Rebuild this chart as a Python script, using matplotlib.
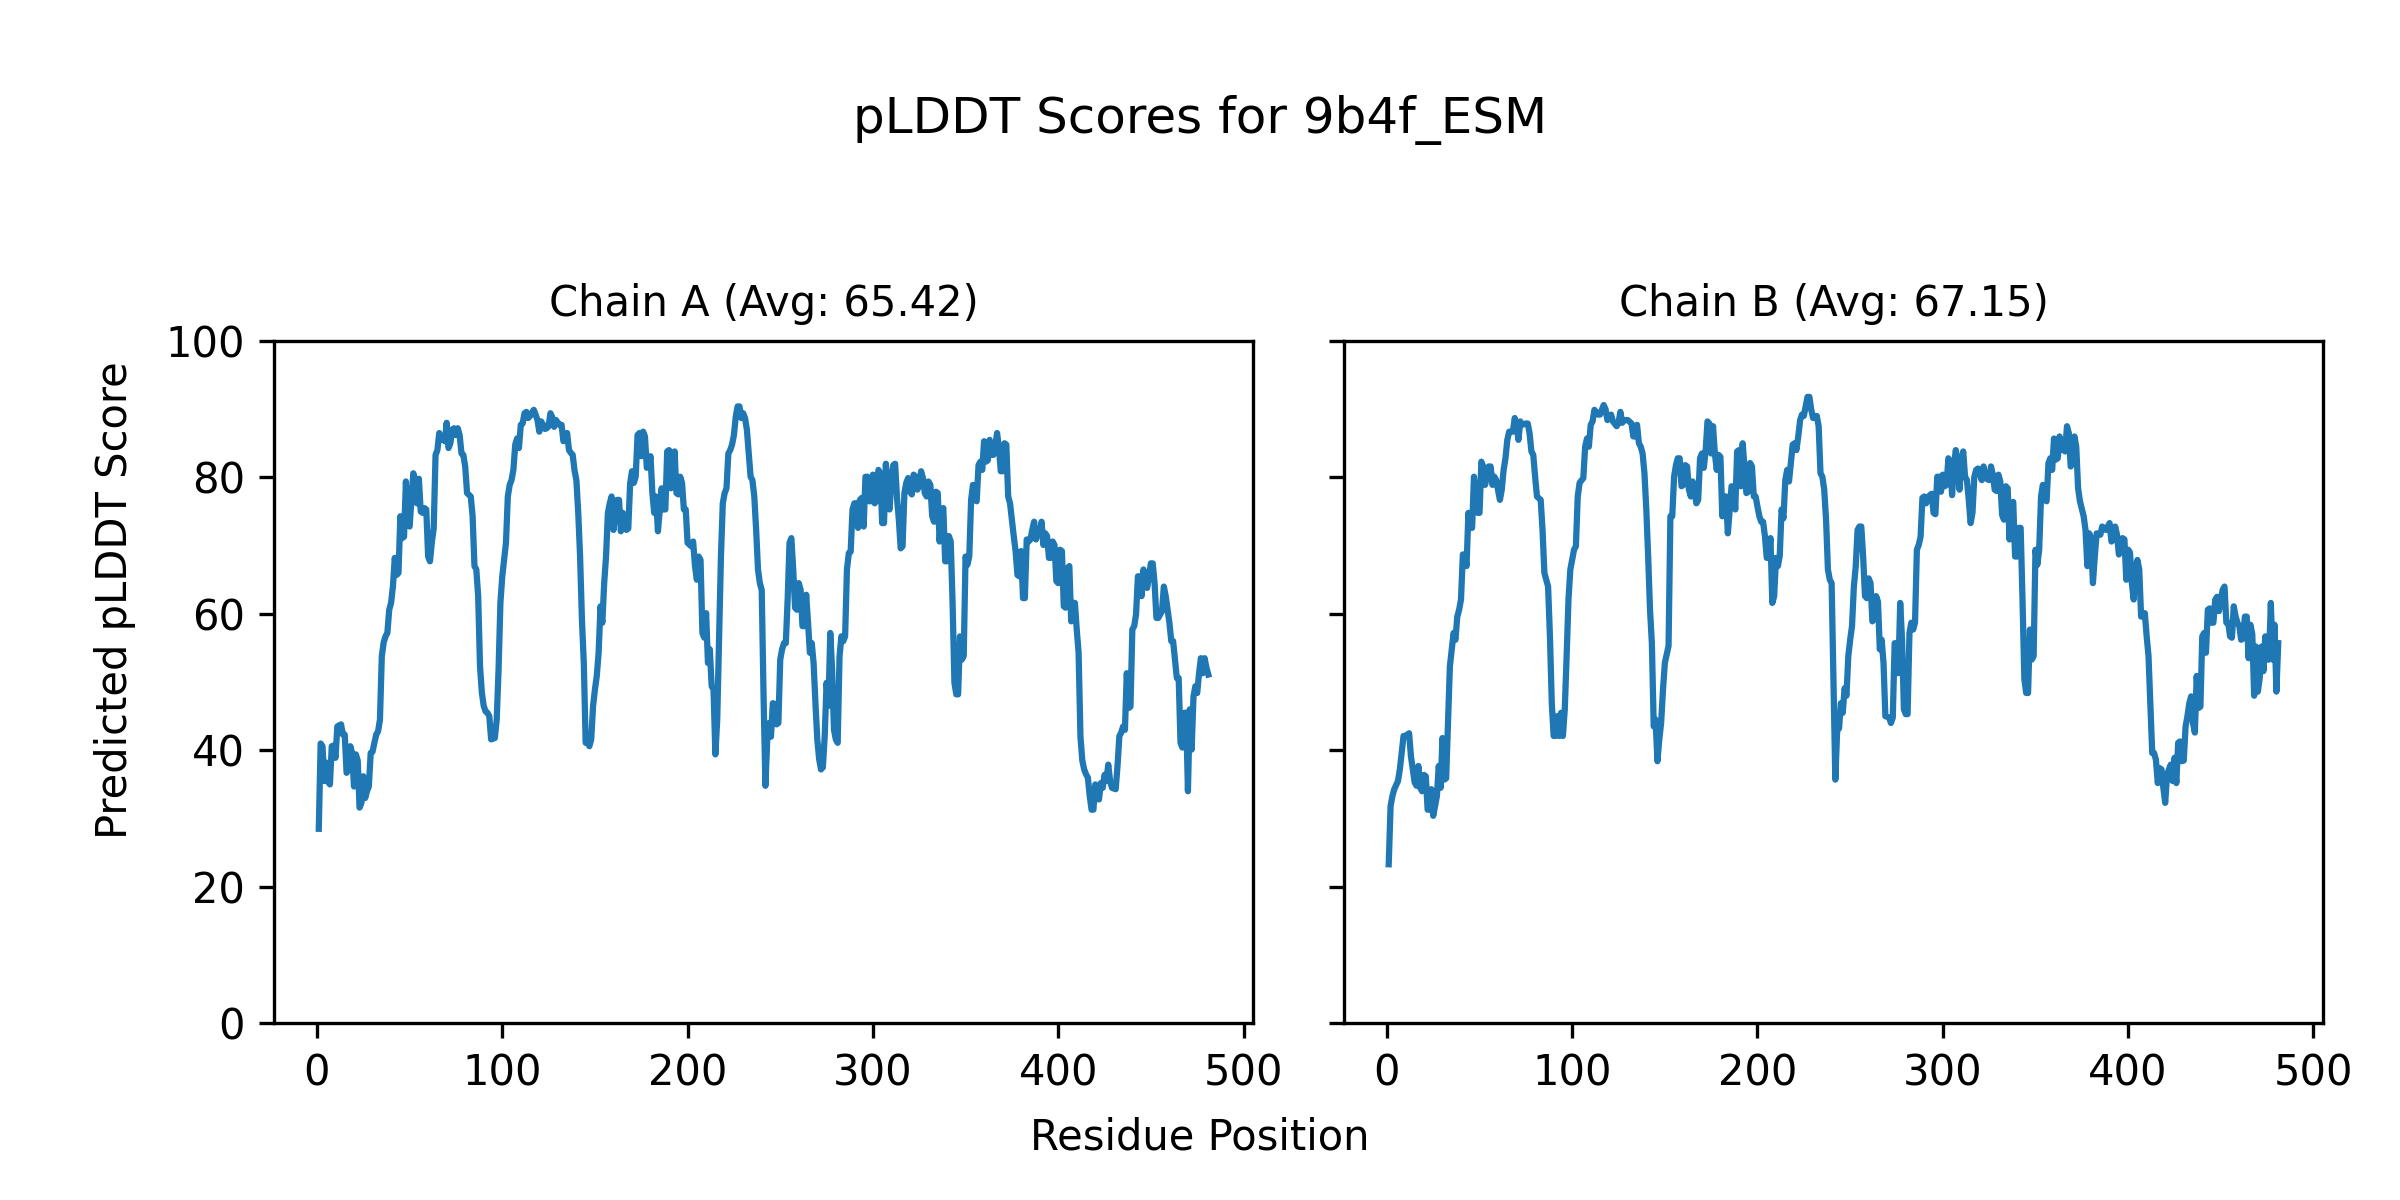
import matplotlib
matplotlib.use("Agg")
import matplotlib.pyplot as plt

# Chain A: residue positions and pLDDT scores
chain_a_pos = [1, 2, 3, 4, 5, 6, 7, 8, 9, 10, 11, 13, 14, 15, 16, 17, 18, 19, 20, 21,
               22, 23, 24, 25, 26, 27, 28, 29, 30, 31, 32, 33, 34, 35, 36, 37, 38, 39, 40, 41,
               42, 43, 44, 45, 46, 47, 48, 49, 50, 52, 53, 54, 55, 56, 57, 58, 59, 60, 61, 62,
               63, 64, 65, 66, 67, 68, 69, 70, 71, 72, 73, 74, 75, 76, 77, 78, 79, 80, 81, 83,
               84, 85, 86, 87, 88, 89, 90, 91, 92, 93, 94, 96, 97, 98, 99, 100, 101, 102, 103, 104,
               105, 106, 107, 108, 109, 110, 111, 112, 113, 114, 115, 116, 117, 118, 119, 120, 121, 122, 123, 124,
               125, 126, 127, 128, 129, 130, 131, 132, 133, 134, 135, 136, 137, 138, 139, 140, 141, 142, 143, 144,
               145, 146, 147, 148, 149, 150, 151, 152, 153, 154, 155, 156, 157, 158, 159, 160, 161, 162, 163, 164,
               165, 166, 167, 168, 169, 170, 171, 172, 173, 174, 175, 176, 177, 178, 179, 180, 181, 182, 183, 184,
               185, 186, 187, 188, 189, 190, 191, 192, 193, 194, 195, 196, 197, 198, 199, 200, 202, 203, 204, 205,
               206, 207, 208, 209, 210, 211, 212, 213, 214, 215, 216, 217, 218, 219, 220, 221, 222, 223, 224, 225,
               226, 227, 228, 229, 230, 231, 232, 233, 234, 235, 236, 237, 238, 239, 240, 241, 242, 243, 244, 245,
               246, 247, 248, 249, 250, 251, 252, 253, 254, 255, 256, 257, 258, 259, 260, 261, 262, 263, 264, 265,
               266, 267, 268, 269, 270, 271, 272, 273, 274, 275, 276, 277, 278, 279, 280, 281, 282, 283, 284, 285,
               286, 287, 288, 289, 290, 291, 292, 293, 294, 295, 296, 297, 298, 299, 300, 301, 302, 303, 304, 305,
               306, 307, 308, 309, 310, 311, 312, 313, 314, 315, 316, 317, 318, 319, 320, 321, 322, 323, 324, 325,
               326, 327, 328, 329, 330, 331, 332, 333, 334, 335, 336, 337, 338, 339, 340, 341, 342, 343, 344, 345,
               346, 347, 348, 349, 350, 351, 352, 353, 354, 355, 356, 357, 358, 359, 360, 361, 362, 363, 364, 365,
               366, 367, 368, 369, 370, 371, 372, 373, 374, 375, 376, 377, 378, 379, 380, 381, 382, 383, 384, 385,
               386, 387, 388, 389, 390, 391, 392, 393, 394, 395, 396, 397, 398, 399, 400, 401, 402, 403, 404, 405,
               406, 407, 408, 409, 410, 411, 412, 413, 414, 415, 416, 417, 418, 419, 420, 422, 423, 424, 425, 426,
               427, 428, 429, 431, 432, 433, 434, 435, 436, 437, 438, 439, 440, 441, 442, 443, 444, 445, 446, 447,
               448, 449, 450, 451, 452, 453, 454, 455, 456, 457, 458, 459, 460, 461, 462, 463, 464, 465, 466, 467,
               468, 469, 470, 471, 472, 473, 474, 475, 476, 477, 478, 479, 480, 481]
chain_a_score = [28.5, 41.0, 40.6, 35.5, 38.2, 35.4, 35.0, 40.6, 40.7, 38.9, 43.5, 43.8, 42.3, 42.3, 36.7, 37.2, 40.6, 39.6, 34.7, 39.4,
                 38.5, 31.6, 32.3, 36.2, 33.0, 34.0, 34.7, 39.6, 39.8, 41.1, 42.3, 42.8, 44.5, 53.8, 55.8, 56.7, 57.2, 60.6, 61.6, 64.0,
                 68.2, 65.7, 66.0, 74.3, 71.1, 71.3, 79.4, 73.3, 72.8, 80.6, 79.6, 76.2, 79.8, 75.0, 74.8, 75.5, 75.3, 68.4, 67.7, 70.5,
                 72.5, 83.3, 84.0, 86.5, 85.5, 85.6, 85.3, 88.0, 84.3, 85.0, 87.0, 87.2, 86.2, 87.2, 86.2, 83.5, 83.3, 81.6, 77.7, 77.2,
                 74.3, 67.0, 66.5, 62.6, 52.3, 48.4, 46.5, 45.7, 45.5, 45.0, 41.6, 41.8, 44.5, 51.8, 61.6, 65.5, 68.0, 70.4, 77.2, 78.9,
                 79.6, 81.1, 84.8, 85.7, 84.3, 87.7, 87.9, 89.4, 89.6, 88.7, 89.0, 89.5, 89.9, 89.2, 88.4, 86.7, 88.2, 87.7, 87.1, 87.2,
                 87.5, 89.4, 88.8, 87.4, 88.4, 88.0, 87.7, 87.7, 85.3, 85.6, 86.5, 84.0, 83.6, 83.3, 81.0, 79.6, 74.8, 68.4, 59.1, 52.8,
                 41.1, 41.3, 40.6, 41.6, 46.5, 48.9, 50.9, 54.3, 61.1, 58.7, 64.5, 68.4, 74.8, 76.2, 77.2, 72.3, 74.8, 76.7, 76.7, 72.1,
                 74.8, 74.3, 72.3, 72.5, 79.1, 80.9, 79.2, 80.1, 86.2, 86.5, 83.1, 86.7, 86.0, 81.4, 81.6, 83.1, 77.7, 74.8, 77.2, 72.1,
                 75.3, 78.4, 75.3, 75.3, 83.8, 84.0, 78.4, 79.1, 83.8, 77.7, 77.5, 80.1, 79.2, 75.3, 75.3, 70.4, 69.9, 70.6, 67.0, 65.0,
                 68.4, 67.9, 57.2, 56.5, 60.1, 52.8, 54.8, 49.4, 48.9, 39.4, 44.5, 56.7, 68.4, 76.2, 77.7, 78.4, 83.5, 84.0, 84.8, 86.2,
                 88.9, 90.4, 90.4, 88.7, 89.4, 88.7, 87.0, 83.5, 80.1, 79.6, 77.2, 72.3, 66.5, 64.5, 63.5, 48.0, 34.8, 41.6, 44.0, 42.0,
                 46.9, 46.8, 43.8, 44.0, 53.3, 54.8, 55.7, 55.7, 62.1, 70.4, 71.1, 66.5, 60.9, 60.6, 64.5, 63.5, 58.2, 58.2, 62.8, 58.7,
                 54.3, 55.7, 52.8, 46.9, 41.6, 38.7, 37.2, 37.5, 42.1, 49.9, 46.5, 57.2, 51.8, 43.0, 41.6, 41.1, 53.8, 56.7, 56.0, 56.7,
                 66.5, 68.9, 69.1, 75.3, 76.2, 76.2, 72.6, 76.7, 77.0, 72.8, 80.1, 80.1, 76.5, 76.5, 80.4, 76.2, 76.7, 81.1, 80.6, 73.3,
                 73.3, 82.0, 76.2, 75.3, 80.1, 81.8, 82.0, 77.0, 73.8, 69.6, 69.9, 77.7, 79.2, 79.9, 77.9, 77.5, 80.4, 80.1, 78.2, 78.9,
                 80.9, 79.9, 77.7, 77.2, 79.4, 78.9, 74.3, 73.5, 77.9, 77.7, 70.6, 75.3, 75.5, 67.7, 67.7, 71.4, 70.6, 61.6, 49.9, 48.2,
                 48.2, 56.7, 53.3, 53.8, 68.4, 67.2, 68.4, 76.7, 78.9, 76.7, 76.5, 81.8, 82.3, 81.1, 85.3, 82.3, 82.5, 85.5, 83.3, 83.3,
                 84.5, 86.5, 84.3, 80.9, 80.9, 85.0, 84.8, 77.2, 76.2, 73.8, 71.4, 69.2, 65.7, 65.5, 69.2, 62.3, 62.3, 70.9, 70.6, 70.9,
                 72.3, 73.5, 70.9, 71.8, 71.8, 73.5, 70.1, 71.8, 71.4, 68.2, 68.2, 70.6, 70.1, 64.8, 64.5, 69.4, 69.2, 61.1, 60.9, 66.7,
                 67.0, 58.9, 61.6, 61.6, 57.7, 54.3, 42.0, 38.5, 37.2, 36.5, 36.0, 33.3, 31.3, 31.3, 35.0, 32.8, 35.2, 34.5, 36.4, 35.5,
                 37.9, 35.5, 34.5, 34.3, 37.7, 42.1, 42.6, 43.5, 43.0, 51.3, 46.2, 46.4, 57.7, 58.2, 59.9, 65.5, 65.5, 62.6, 66.5, 64.5,
                 63.8, 65.5, 67.4, 67.4, 64.5, 59.4, 59.4, 59.9, 60.4, 64.0, 62.6, 60.6, 58.7, 56.0, 56.0, 53.3, 50.6, 50.6, 41.1, 40.4,
                 45.5, 45.5, 34.0, 46.0, 40.1, 47.9, 49.4, 48.4, 51.3, 53.5, 51.3, 53.5, 52.1, 51.1]

# Chain B
chain_b_pos = [1, 2, 3, 4, 6, 7, 8, 9, 10, 11, 12, 13, 15, 16, 17, 18, 19, 20, 21, 22,
               23, 24, 25, 26, 27, 28, 29, 30, 31, 32, 33, 34, 35, 36, 37, 38, 39, 40, 41, 42,
               43, 44, 45, 46, 47, 49, 50, 51, 52, 53, 55, 56, 57, 58, 59, 61, 62, 63, 64, 65,
               66, 68, 69, 70, 71, 72, 73, 75, 76, 77, 78, 79, 80, 81, 83, 84, 85, 87, 88, 89,
               90, 91, 92, 93, 94, 95, 96, 97, 98, 99, 101, 102, 103, 104, 106, 107, 108, 109, 110, 111,
               112, 114, 115, 117, 118, 119, 121, 122, 124, 125, 126, 127, 128, 130, 132, 133, 134, 135, 136, 137,
               138, 139, 140, 141, 142, 143, 144, 145, 146, 147, 148, 149, 150, 152, 153, 154, 155, 156, 157, 158,
               159, 160, 161, 162, 163, 164, 165, 166, 167, 168, 169, 170, 171, 172, 173, 174, 175, 176, 177, 178,
               179, 180, 181, 182, 183, 184, 185, 186, 187, 188, 189, 190, 191, 192, 194, 195, 196, 197, 198, 199,
               200, 201, 202, 203, 204, 205, 206, 207, 208, 209, 210, 211, 212, 213, 214, 215, 216, 217, 218, 219,
               220, 221, 222, 223, 224, 225, 226, 227, 228, 229, 230, 232, 233, 234, 235, 236, 237, 238, 239, 240,
               241, 242, 243, 244, 245, 246, 247, 248, 249, 250, 251, 252, 253, 254, 255, 256, 257, 258, 259, 260,
               261, 262, 263, 264, 265, 266, 267, 268, 269, 271, 272, 273, 274, 275, 276, 277, 278, 279, 280, 281,
               282, 283, 284, 285, 286, 287, 288, 289, 290, 291, 292, 293, 294, 295, 296, 297, 298, 299, 300, 301,
               302, 303, 304, 305, 306, 307, 308, 309, 310, 311, 312, 313, 314, 315, 316, 317, 318, 319, 321, 322,
               323, 325, 326, 327, 328, 329, 330, 331, 332, 333, 334, 335, 336, 337, 338, 339, 340, 341, 342, 343,
               344, 345, 346, 347, 348, 349, 350, 351, 352, 353, 354, 355, 356, 357, 358, 359, 360, 361, 362, 363,
               364, 365, 366, 367, 368, 369, 370, 371, 372, 373, 374, 376, 377, 378, 379, 380, 381, 382, 383, 384,
               385, 386, 388, 390, 391, 392, 393, 394, 395, 396, 397, 398, 399, 400, 401, 402, 403, 404, 405, 406,
               407, 408, 409, 410, 411, 412, 413, 414, 415, 416, 417, 418, 419, 420, 421, 422, 423, 424, 425, 426,
               427, 428, 429, 430, 431, 432, 433, 434, 435, 436, 437, 438, 439, 440, 441, 442, 443, 444, 445, 446,
               447, 448, 449, 450, 451, 452, 453, 454, 455, 456, 457, 458, 459, 460, 461, 462, 463, 464, 465, 466,
               467, 468, 469, 470, 471, 472, 473, 474, 475, 476, 477, 478, 479, 480, 481]
chain_b_score = [23.3, 31.8, 33.3, 34.3, 35.5, 37.2, 39.6, 42.1, 42.1, 42.3, 42.5, 39.1, 35.3, 34.8, 37.7, 34.5, 34.0, 36.4, 36.2, 31.3,
                 31.3, 34.3, 30.4, 31.8, 33.3, 37.7, 34.5, 41.8, 35.7, 35.9, 44.0, 52.3, 54.8, 57.2, 56.2, 59.6, 60.6, 62.1, 68.7, 68.7,
                 67.0, 74.8, 72.6, 72.6, 80.1, 74.8, 74.8, 82.3, 81.6, 78.9, 81.6, 81.6, 78.9, 80.1, 79.6, 76.7, 78.2, 81.1, 82.8, 85.5,
                 86.7, 86.7, 88.7, 87.7, 85.5, 88.2, 87.7, 87.9, 87.9, 86.5, 83.8, 83.3, 80.1, 77.2, 76.7, 72.3, 66.0, 64.0, 56.7, 46.9,
                 42.1, 42.1, 45.0, 42.1, 45.5, 42.1, 46.0, 53.8, 62.1, 66.5, 69.4, 69.9, 77.2, 79.2, 79.9, 84.5, 85.7, 84.5, 87.7, 88.2,
                 89.9, 89.2, 89.2, 90.6, 90.0, 88.4, 89.2, 88.2, 87.5, 88.0, 89.6, 88.0, 88.4, 88.4, 87.9, 86.0, 86.0, 87.7, 85.0, 84.5,
                 83.5, 80.6, 75.3, 68.4, 60.6, 55.7, 43.5, 44.5, 38.4, 41.6, 44.0, 48.9, 52.8, 55.3, 74.3, 74.3, 80.1, 81.8, 82.8, 82.8,
                 78.7, 78.9, 81.8, 81.6, 78.2, 77.2, 79.4, 78.2, 76.2, 76.7, 82.8, 83.5, 81.4, 83.8, 88.2, 87.9, 83.5, 87.5, 83.5, 81.1,
                 83.3, 83.0, 74.3, 77.2, 77.2, 71.8, 75.3, 78.7, 78.4, 75.3, 83.8, 84.0, 78.7, 85.0, 77.7, 77.9, 82.1, 81.6, 77.2, 77.2,
                 75.7, 74.3, 73.5, 73.5, 71.4, 68.2, 68.2, 71.1, 61.6, 62.6, 68.2, 67.0, 68.5, 75.3, 74.0, 79.6, 81.1, 79.4, 82.1, 84.8,
                 85.0, 84.0, 86.0, 88.4, 89.2, 89.0, 90.4, 91.8, 91.8, 89.9, 88.7, 89.0, 87.5, 80.6, 80.1, 78.2, 73.8, 66.5, 65.0, 64.5,
                 50.0, 35.7, 43.0, 43.2, 46.9, 45.5, 49.1, 48.0, 53.8, 56.2, 58.2, 64.0, 66.9, 72.3, 72.8, 72.8, 68.4, 62.6, 62.3, 65.2,
                 64.5, 58.9, 59.4, 62.6, 61.8, 54.8, 56.2, 52.8, 45.0, 44.8, 44.0, 44.8, 55.7, 55.7, 51.3, 61.6, 56.2, 46.0, 45.3, 45.3,
                 57.2, 58.7, 57.7, 58.7, 69.4, 70.1, 71.3, 77.0, 77.2, 76.2, 77.0, 77.4, 77.6, 74.8, 74.6, 80.1, 80.1, 77.9, 80.4, 78.7,
                 78.9, 82.8, 82.3, 77.4, 81.6, 84.0, 82.3, 78.2, 82.1, 83.8, 80.1, 79.6, 76.7, 73.3, 74.8, 80.1, 81.1, 81.3, 79.6, 81.6,
                 79.9, 79.6, 81.6, 80.4, 78.2, 78.0, 80.4, 79.4, 74.5, 73.8, 78.7, 78.4, 70.9, 76.2, 76.4, 68.4, 68.4, 72.6, 72.6, 62.1,
                 50.4, 48.4, 48.4, 57.7, 53.3, 53.8, 69.4, 67.2, 69.4, 77.2, 78.9, 76.7, 76.5, 82.1, 82.8, 81.1, 85.7, 82.6, 82.8, 86.0,
                 84.0, 84.5, 83.8, 87.5, 86.5, 81.6, 82.0, 86.0, 84.5, 78.4, 76.5, 74.3, 72.3, 67.0, 71.8, 71.0, 64.5, 68.4, 71.8, 71.6,
                 71.6, 72.8, 72.3, 73.3, 70.6, 70.9, 72.8, 71.6, 68.7, 69.2, 71.1, 70.9, 65.0, 69.4, 69.0, 64.5, 62.1, 66.7, 67.9, 66.5,
                 59.6, 59.8, 60.1, 56.7, 53.8, 46.5, 39.6, 39.6, 38.6, 35.2, 37.4, 37.2, 34.5, 32.3, 36.4, 37.2, 37.9, 35.5, 38.9, 35.2,
                 41.1, 41.3, 38.4, 38.5, 43.5, 45.0, 46.9, 47.9, 44.0, 42.6, 50.9, 46.2, 46.4, 56.7, 57.2, 54.3, 60.6, 60.8, 58.7, 58.7,
                 62.1, 62.5, 60.4, 62.0, 63.5, 64.0, 58.7, 58.7, 56.7, 56.5, 61.1, 59.6, 58.7, 58.2, 56.2, 56.4, 59.6, 59.6, 53.5, 58.4,
                 57.0, 48.0, 55.2, 48.6, 50.6, 55.2, 51.6, 56.7, 53.3, 53.3, 61.6, 53.3, 58.4, 48.6, 55.7]

chains = ["A", "B"]
averages = [65.42, 67.15]
positions = [chain_a_pos, chain_b_pos]
scores = [chain_a_score, chain_b_score]

fig = plt.figure(figsize=(8, 4), dpi=300)
ax1 = fig.add_axes([0.1143, 0.1473, 0.4077, 0.5686])
ax2 = fig.add_axes([0.5601, 0.1473, 0.4077, 0.5686], sharey=ax1)

for ax, name, avg, x, y in zip([ax1, ax2], chains, averages, positions, scores):
    ax.plot(x, y, color="#1f77b4", linewidth=1.5)
    ax.set_title(f"Chain {name} (Avg: {avg:.2f})", fontsize=10)
    ax.set_ylim(0, 100)

ax2.tick_params(labelleft=False)

fig.suptitle("pLDDT Scores for 9b4f_ESM", fontsize=12, y=0.9, va="center")
fig.supxlabel("Residue Position", fontsize=10, y=0.052, va="center")
fig.supylabel("Predicted pLDDT Score", fontsize=10, x=0.048, ha="center", va="center")

fig.savefig("out.png", dpi=300)
